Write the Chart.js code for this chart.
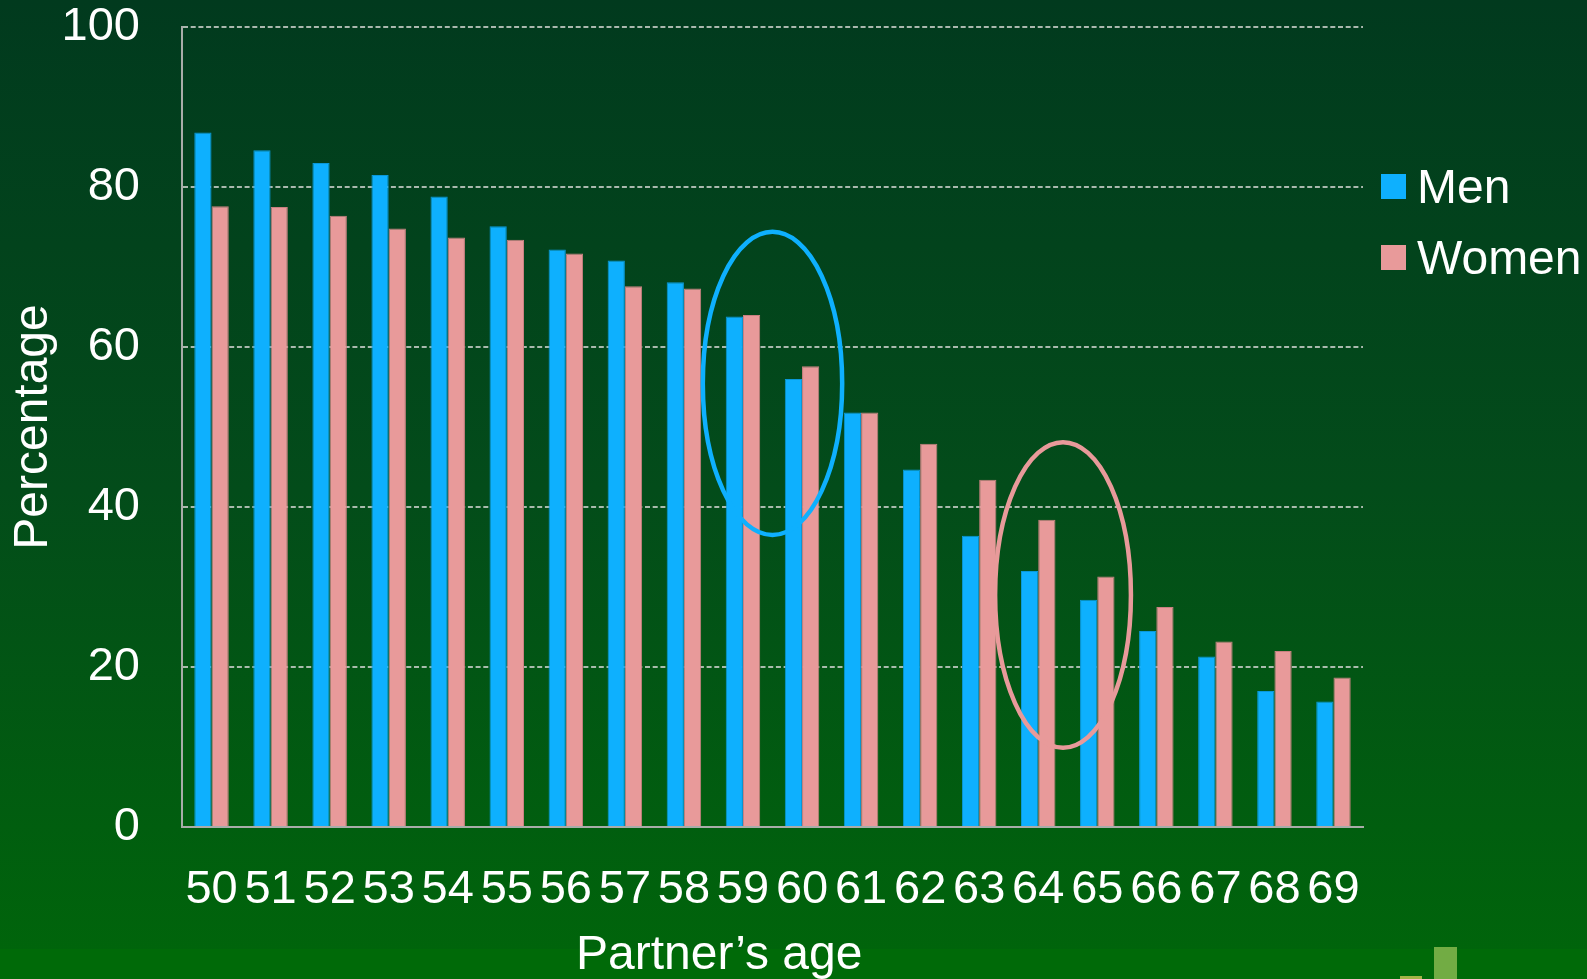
<!DOCTYPE html>
<html>
<head>
<meta charset="utf-8">
<script src="https://cdn.jsdelivr.net/npm/chart.js@4.4.1/dist/chart.umd.min.js"></script>
<style>
  html, body { margin: 0; padding: 0; overflow: hidden; background: #013a1f; }
  #wrap { width: 1587px; height: 979px; }
</style>
</head>
<body>
<div id="wrap"><canvas id="barChart" width="1587" height="979"></canvas></div>
<script>
// partner's age categories
const ages = ['50', '51', '52', '53', '54', '55', '56', '57', '58', '59',
              '60', '61', '62', '63', '64', '65', '66', '67', '68', '69'];

// percentage values
const menValues = [86.8, 84.6, 83.0, 81.5, 78.8, 75.1, 72.2, 70.8, 68.1, 63.8,
                   56.0, 51.8, 44.7, 36.4, 32.0, 28.4, 24.5, 21.3, 17.0, 15.7];
const womenValues = [77.6, 77.5, 76.4, 74.8, 73.7, 73.4, 71.7, 67.6, 67.3, 64.0,
                     57.6, 51.8, 47.9, 43.4, 38.4, 31.3, 27.5, 23.2, 22.0, 18.7];

const yTicks = [0, 20, 40, 60, 80, 100];

const menColor = '#0eb0fe';
const womenColor = '#e89a9a';
const font = 'Liberation Sans, Arial, sans-serif';

// highlight rings: centre in category index units, half width in categories, value range
const rings = [
    { center: 9.5, halfWidth: 1.18, low: 36.5, high: 74.4, color: menColor },
    { center: 14.42, halfWidth: 1.15, low: 9.9, high: 48.1, color: womenColor }
];

// background gradient + little logo at the bottom right
const slideBackground = {
    id: 'slideBackground',
    beforeDraw(chart) {
        const ctx = chart.ctx;
        const g = ctx.createLinearGradient(0, 0, 0, chart.height);
        g.addColorStop(0, '#013a1e');
        g.addColorStop(0.5, '#034c1a');
        g.addColorStop(1, '#00660a');
        ctx.save();
        ctx.fillStyle = g;
        ctx.fillRect(0, 0, chart.width, chart.height);
        ctx.fillStyle = '#006a08';
        ctx.fillRect(0, 949, chart.width, chart.height - 949);
        ctx.fillStyle = '#a4b446';
        ctx.fillRect(1400, 976, 22, 3);
        ctx.fillStyle = '#72ac44';
        ctx.fillRect(1434, 947, 23, 32);
        ctx.restore();
    }
};

// ellipses drawn on top of the bars
const ringPlugin = {
    id: 'ringPlugin',
    afterDatasetsDraw(chart) {
        const ctx = chart.ctx;
        const x = chart.scales.x;
        const y = chart.scales.y;
        const step = x.getPixelForValue(1) - x.getPixelForValue(0);
        rings.forEach(function (r) {
            const cx = x.getPixelForValue(0) + r.center * step;
            const top = y.getPixelForValue(r.high);
            const bottom = y.getPixelForValue(r.low);
            ctx.save();
            ctx.beginPath();
            ctx.ellipse(cx, (top + bottom) / 2, r.halfWidth * step, (bottom - top) / 2, 0, 0, Math.PI * 2);
            ctx.lineWidth = 4.5;
            ctx.strokeStyle = r.color;
            ctx.stroke();
            ctx.restore();
        });
    }
};

// legend to the right of the plot
const sideLegend = {
    id: 'sideLegend',
    afterDraw(chart) {
        const ctx = chart.ctx;
        const left = chart.chartArea.right + 18;
        ctx.save();
        ctx.font = '48px ' + font;
        ctx.textBaseline = 'middle';
        ctx.textAlign = 'left';
        chart.data.datasets.forEach(function (ds, i) {
            const top = 174 + i * 71;
            ctx.fillStyle = ds.backgroundColor;
            ctx.fillRect(left, top, 25, 25);
            ctx.fillStyle = '#ffffff';
            ctx.fillText(ds.label, left + 36, top + 16);
        });
        ctx.restore();
    }
};

const ctxBar = document.getElementById('barChart').getContext('2d');
const barChart = new Chart(ctxBar, {
    type: 'bar',
    data: {
        labels: ages,
        datasets: [
            {
                label: 'Men',
                data: menValues,
                backgroundColor: menColor,
                borderColor: '#0a98d8',
                borderWidth: 1,
                categoryPercentage: 0.584,
                barPercentage: 1
            },
            {
                label: 'Women',
                data: womenValues,
                backgroundColor: womenColor,
                borderColor: '#c88080',
                borderWidth: 1,
                categoryPercentage: 0.584,
                barPercentage: 1
            }
        ]
    },
    options: {
        responsive: false,
        animation: false,
        layout: { padding: { top: 0, right: 224, bottom: 0, left: 0 } },
        plugins: {
            legend: { display: false },
            tooltip: { enabled: false }
        },
        scales: {
            x: {
                grid: { display: false, drawTicks: false },
                border: { display: true, color: '#a9aca9', width: 2 },
                ticks: {
                    color: '#ffffff',
                    font: { family: font, size: 47 },
                    padding: 35,
                    maxRotation: 0,
                    autoSkip: false
                },
                title: {
                    display: true,
                    // trailing spaces pull the title left like in the slide
                    text: 'Partner\u2019s age' + '\u00a0'.repeat(8),
                    color: '#ffffff',
                    font: { family: font, size: 48 },
                    padding: { top: 0, bottom: -6 }
                },
                afterFit: function (scale) { scale.height = 152; }
            },
            y: {
                min: 0,
                max: 100,
                afterBuildTicks: function (scale) {
                    scale.ticks = yTicks.map(function (v) { return { value: v }; });
                },
                grid: { color: 'rgba(200,206,200,0.85)', lineWidth: 2, drawTicks: false },
                border: { display: true, color: '#a9aca9', width: 2, dash: [5, 2.7] },
                ticks: {
                    color: '#ffffff',
                    font: { family: font, size: 47 },
                    padding: 42
                },
                title: {
                    display: true,
                    text: 'Percentage',
                    color: '#ffffff',
                    font: { family: font, size: 48 },
                    padding: { top: 5, bottom: 0 }
                },
                afterFit: function (scale) {
                    scale.width = 182;
                    scale.paddingTop = 27;
                }
            }
        }
    },
    plugins: [slideBackground, ringPlugin, sideLegend]
});
</script>
</body>
</html>
